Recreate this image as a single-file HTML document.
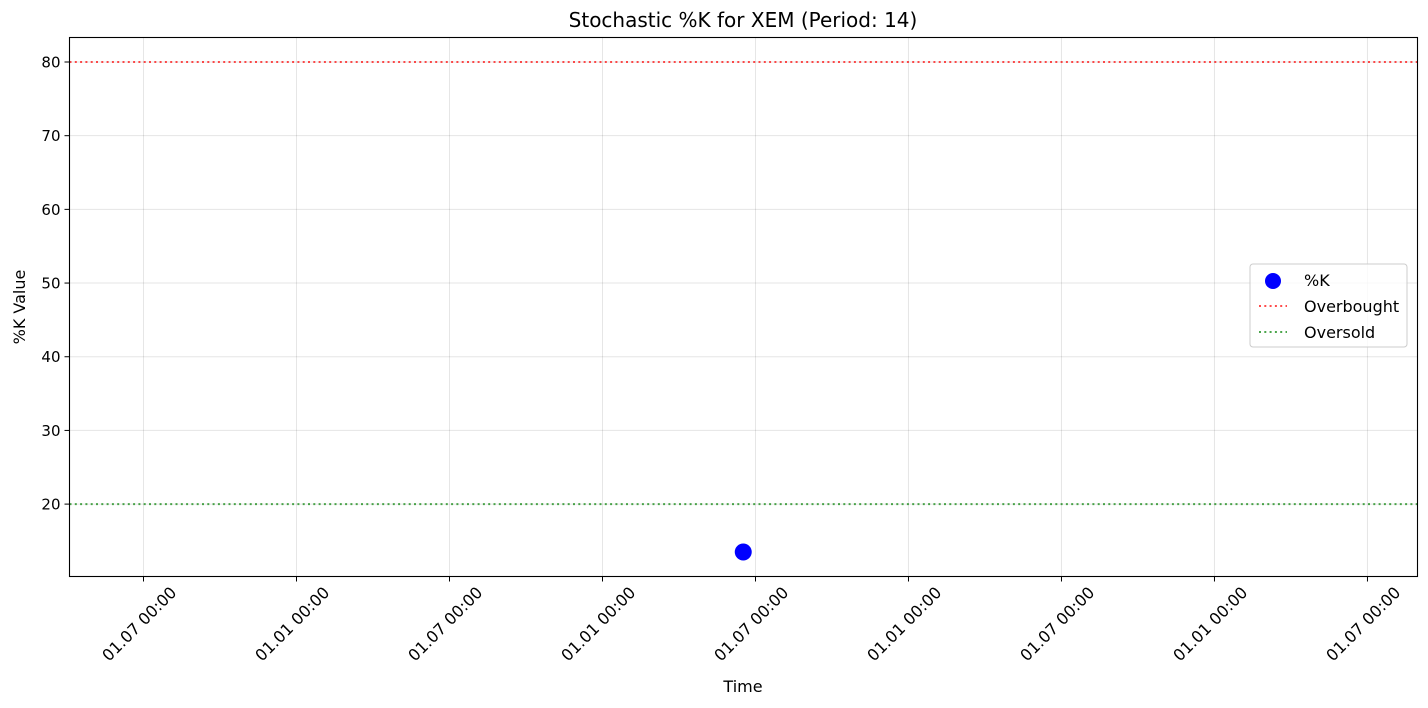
<!DOCTYPE html>
<html><head><meta charset="utf-8"><style>
html,body{margin:0;padding:0;background:#fff;}
svg{display:block;font-family:"DejaVu Sans","Liberation Sans",sans-serif;}
</style></head><body>
<svg id="chart" width="1428" height="708" viewBox="0 0 1428 708">
<rect x="0" y="0" width="1428" height="708" fill="#fff"/>
<text x="743" y="27" font-size="20" text-anchor="middle">Stochastic %K for XEM (Period: 14)</text>
<g id="grid"></g>
<g id="lines"></g>
<g id="marks"></g>
<rect x="69.5" y="37.5" width="1348" height="539" fill="none" stroke="#000" stroke-width="1.1"/>
<g id="yticks"></g>
<g id="xticks"></g>
<text x="743" y="692" font-size="16" text-anchor="middle">Time</text>
<text transform="translate(25,307) rotate(-90)" font-size="16" text-anchor="middle">%K Value</text>
<g>
<rect x="1250" y="264" width="157" height="83" rx="3" fill="#fff" fill-opacity="0.8" stroke="#ccc"/>
<g><circle cx="1273" cy="281" r="8" fill="#0000ff"/><text x="1304" y="286" font-size="16">%K</text></g>
<g><line x1="1259" y1="306" x2="1287" y2="306" stroke="#ff0000" stroke-opacity="0.7" stroke-width="2" stroke-dasharray="2,3.3"/><text x="1304" y="312" font-size="16">Overbought</text></g>
<g><line x1="1259" y1="332" x2="1287" y2="332" stroke="#008000" stroke-opacity="0.7" stroke-width="2" stroke-dasharray="2,3.3"/><text x="1304" y="338" font-size="16">Oversold</text></g>
</g>
</svg>
<script>
const xTickValues = [0,1,2,3,4,5,6,7,8];
const xTickLabels = ["01.07 00:00","01.01 00:00","01.07 00:00","01.01 00:00","01.07 00:00","01.01 00:00","01.07 00:00","01.01 00:00","01.07 00:00"];
const yTickValues = [20,30,40,50,60,70,80];
const kTimes = [3.92];
const kValues = [13.5];
const overbought = 80;
const oversold = 20;

const NS="http://www.w3.org/2000/svg";
const L=69.5,R=1417.5,T=37.5,B=576.5;
const xMin=-0.4837,xMax=8.327,yMin=10.175,yMax=83.325;
function sx(v){return L+(v-xMin)/(xMax-xMin)*(R-L);}
function sy(v){return B-(v-yMin)/(yMax-yMin)*(B-T);}
function mk(tag,attrs,parent){const e=document.createElementNS(NS,tag);for(const k in attrs)e.setAttribute(k,attrs[k]);parent.appendChild(e);return e;}
const grid=document.getElementById('grid'),yt=document.getElementById('yticks'),xt=document.getElementById('xticks');
yTickValues.forEach(v=>{
  const y=sy(v);
  const g=mk('line',{x1:L,x2:R,y1:y,y2:y,stroke:'#000','stroke-opacity':0.1,'stroke-width':1},grid);
  
  
  const t=mk('line',{x1:L-5,x2:L,y1:y,y2:y,stroke:'#000','stroke-width':1},yt);
  
  
  const tx=mk('text',{x:L-9,y:y+5.5,'font-size':15,'text-anchor':'end'},yt);
  tx.textContent=v;
  
  
});
xTickValues.forEach((v,i)=>{
  const x=sx(v);
  const g=mk('line',{x1:x,x2:x,y1:T,y2:B,stroke:'#000','stroke-opacity':0.1,'stroke-width':1},grid);
  
  
  const t=mk('line',{x1:x,x2:x,y1:B,y2:B+5,stroke:'#000','stroke-width':1},xt);
  
  
  const tx=mk('text',{transform:`translate(${x+34},${B+17}) rotate(-45)`,'font-size':16,'text-anchor':'end'},xt);
  tx.textContent=xTickLabels[i];
  
  
});
const lines=document.getElementById('lines');
const ob=mk('line',{x1:L,x2:R,y1:sy(overbought),y2:sy(overbought),stroke:'#ff0000','stroke-opacity':0.7,'stroke-width':2,'stroke-dasharray':'2,3.3'},lines);


const os=mk('line',{x1:L,x2:R,y1:sy(oversold),y2:sy(oversold),stroke:'#008000','stroke-opacity':0.7,'stroke-width':2,'stroke-dasharray':'2,3.3'},lines);


const marks=document.getElementById('marks');
kValues.forEach((v,i)=>{
  const c=mk('circle',{cx:sx(kTimes[i]),cy:sy(v),r:8.5,fill:'#0000ff'},marks);
  
  
});
</script>
</body></html>
